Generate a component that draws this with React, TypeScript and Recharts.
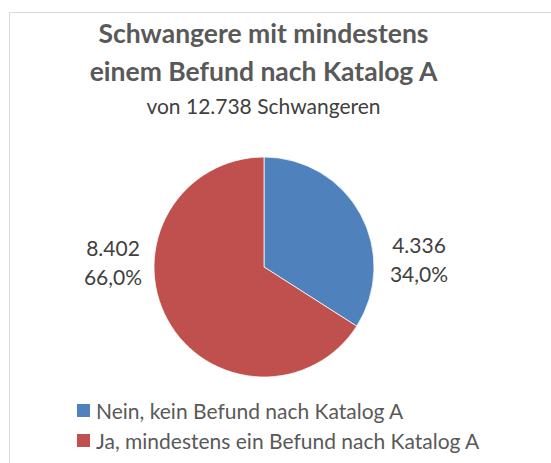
import { PieChart, Pie, Cell, Legend } from 'recharts';

const categories = ['Nein, kein Befund nach Katalog A', 'Ja, mindestens ein Befund nach Katalog A'];
const counts = [4336, 8402];
const shares = ['34,0%', '66,0%'];
const colors = ['#4F81BD', '#C0504D'];

const data = categories.map((name, i) => ({ name, value: counts[i], share: shares[i] }));

const FONT = 'Lato, "Open Sans", sans-serif';
const RAD = Math.PI / 180;

function fmt(n: number) {
  return n.toLocaleString('de-DE');
}

function renderLabel(props: any) {
  const { cx, cy, midAngle, outerRadius, value, payload } = props;
  const right = Math.cos(-midAngle * RAD) >= 0;
  const x = right ? cx + outerRadius + 45 : cx - outerRadius - 41;
  const y = right ? cy - 8 : cy - 5;
  return (
    <text x={x} y={y} textAnchor="middle" fill="#404040" fontSize={21} fontFamily={FONT}>
      <tspan x={x} dy={-6}>{fmt(value)}</tspan>
      <tspan x={x} dy={29}>{payload.share}</tspan>
    </text>
  );
}

function LegendBox() {
  return (
    <div style={{ fontFamily: FONT, fontSize: 21, color: '#595959' }}>
      {data.map((d, i) => (
        <div key={d.name} style={{ display: 'flex', alignItems: 'center', height: 30 }}>
          <span style={{ width: 13, height: 13, background: colors[i], marginRight: 6, display: 'inline-block' }} />
          <span>{d.name}</span>
        </div>
      ))}
    </div>
  );
}

export default function App() {
  return (
    <div style={{ position: 'absolute', left: 0, top: 0, width: 551, height: 463, overflow: 'hidden', background: '#fff' }}>
      <div style={{ position: 'absolute', left: 9, top: 12, width: 600, height: 500, border: '1.5px solid #D9D9D9', boxSizing: 'border-box' }} />
      <div style={{ position: 'absolute', left: 0, width: 527, top: 14, textAlign: 'center', fontFamily: FONT, color: '#595959', fontWeight: 700, fontSize: 26.5, lineHeight: '38px' }}>
        <div>Schwangere mit mindestens</div>
        <div>einem Befund nach Katalog A</div>
      </div>
      <div style={{ position: 'absolute', left: 0, width: 527, top: 92, textAlign: 'center', fontFamily: FONT, color: '#404040', fontSize: 21, lineHeight: '28px' }}>
        von 12.738 Schwangeren
      </div>
      <div style={{ position: 'absolute', left: 0, top: 0 }}>
        <PieChart width={551} height={463} margin={{ top: 0, right: 0, bottom: 0, left: 0 }}>
          <Pie
            data={data}
            dataKey="value"
            nameKey="name"
            cx={264}
            cy={267}
            outerRadius={110}
            startAngle={90}
            endAngle={-270}
            stroke="#ffffff"
            strokeWidth={0.75}
            label={renderLabel}
            labelLine={false}
            isAnimationActive={false}
          >
            {data.map((d, i) => <Cell key={d.name} fill={colors[i]} />)}
          </Pie>
          <Legend content={<LegendBox />} wrapperStyle={{ left: 77, top: 395, width: 470 }} />
        </PieChart>
      </div>
    </div>
  );
}
